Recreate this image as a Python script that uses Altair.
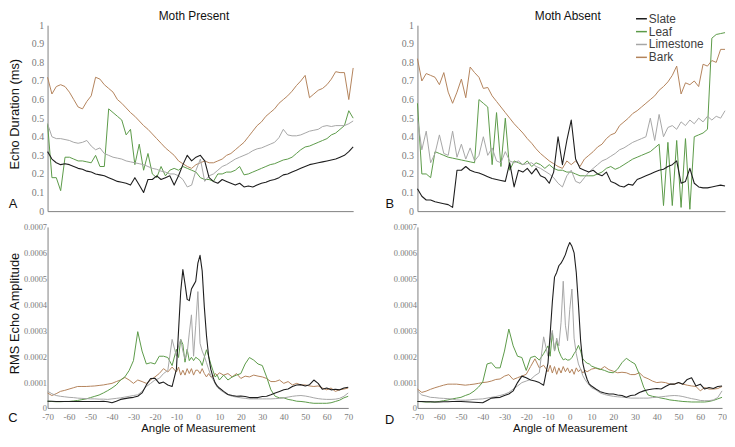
import altair as alt
import pandas as pd

SERIES = ["Slate", "Leaf", "Limestone", "Bark"]
COLORS = ["#1e1e1e", "#5b9a48", "#a6a6a6", "#b3835b"]
WIDTHS = [1.1, 1.0, 1.0, 1.0]
DRAW_ORDER = ["Bark", "Leaf", "Limestone", "Slate"]

TOP_ANGLES = list(range(-70, 71, 2))
BOTTOM_ANGLES = list(range(-70, -11, 2)) + list(range(-10, 11)) + list(range(12, 71, 2))

# ---- Panel A : echo duration (ms), moth present ----
A_SLATE = [0.32, 0.28, 0.26, 0.25, 0.255, 0.25, 0.24, 0.23, 0.225, 0.215,
           0.21, 0.20, 0.195, 0.19, 0.18, 0.17, 0.16, 0.155, 0.15, 0.14,
           0.18, 0.14, 0.10, 0.17, 0.17, 0.19, 0.17, 0.18, 0.19, 0.14,
           0.19, 0.25, 0.30, 0.27, 0.29, 0.30, 0.27, 0.18, 0.16, 0.15,
           0.17, 0.16, 0.15, 0.14, 0.15, 0.13, 0.135, 0.13, 0.14, 0.15,
           0.155, 0.165, 0.17, 0.18, 0.195, 0.20, 0.21, 0.22, 0.23, 0.24,
           0.25, 0.255, 0.26, 0.265, 0.27, 0.275, 0.28, 0.29, 0.30, 0.32,
           0.345]
A_LEAF = [0.47, 0.18, 0.18, 0.11, 0.29, 0.29, 0.28, 0.27, 0.27, 0.265,
          0.26, 0.30, 0.24, 0.24, 0.55, 0.53, 0.51, 0.49, 0.41, 0.44,
          0.25, 0.36, 0.22, 0.31, 0.20, 0.18, 0.24, 0.19, 0.22, 0.23,
          0.22, 0.24, 0.23, 0.22, 0.21, 0.18, 0.17, 0.17, 0.16, 0.20,
          0.20, 0.21, 0.21, 0.22, 0.24, 0.195, 0.20, 0.21, 0.22, 0.23,
          0.24, 0.25, 0.255, 0.265, 0.275, 0.28, 0.29, 0.31, 0.33, 0.345,
          0.35, 0.36, 0.37, 0.38, 0.39, 0.41, 0.42, 0.44, 0.46, 0.54,
          0.50]
A_LIMESTONE = [0.47, 0.40, 0.39, 0.39, 0.385, 0.38, 0.37, 0.365, 0.37, 0.38,
               0.35, 0.33, 0.34, 0.31, 0.30, 0.29, 0.285, 0.28, 0.27, 0.265,
               0.26, 0.255, 0.25, 0.24, 0.23, 0.225, 0.215, 0.21, 0.20, 0.20,
               0.19, 0.17, 0.13, 0.14, 0.22, 0.28, 0.16, 0.19, 0.20, 0.22,
               0.24, 0.25, 0.265, 0.28, 0.29, 0.30, 0.31, 0.325, 0.335, 0.34,
               0.35, 0.36, 0.37, 0.395, 0.44, 0.41, 0.405, 0.405, 0.41, 0.42,
               0.43, 0.435, 0.44, 0.455, 0.46, 0.455, 0.46, 0.46, 0.46, 0.47,
               0.485]
A_BARK = [0.72, 0.63, 0.67, 0.68, 0.67, 0.64, 0.60, 0.56, 0.55, 0.59,
          0.62, 0.72, 0.71, 0.68, 0.66, 0.64, 0.60, 0.58, 0.555, 0.53,
          0.51, 0.485, 0.46, 0.44, 0.415, 0.39, 0.365, 0.34, 0.32, 0.30,
          0.27, 0.255, 0.24, 0.23, 0.25, 0.26, 0.27, 0.26, 0.26, 0.27,
          0.28, 0.30, 0.31, 0.33, 0.35, 0.37, 0.40, 0.43, 0.46, 0.48,
          0.51, 0.53, 0.55, 0.58, 0.60, 0.62, 0.645, 0.675, 0.70, 0.73,
          0.61, 0.63, 0.65, 0.66, 0.68, 0.71, 0.75, 0.745, 0.745, 0.60,
          0.77]

# ---- Panel B : echo duration (ms), moth absent ----
B_SLATE = [0.12, 0.08, 0.06, 0.06, 0.05, 0.045, 0.04, 0.035, 0.02, 0.22,
           0.22, 0.24, 0.22, 0.21, 0.205, 0.195, 0.185, 0.175, 0.17, 0.165,
           0.16, 0.26, 0.13, 0.22, 0.21, 0.23, 0.20, 0.23, 0.19, 0.18,
           0.15, 0.21, 0.40, 0.25, 0.38, 0.49, 0.28, 0.23, 0.22, 0.21,
           0.22, 0.20, 0.19, 0.21, 0.16, 0.15, 0.135, 0.13, 0.145, 0.14,
           0.17, 0.18, 0.19, 0.20, 0.21, 0.22, 0.225, 0.24, 0.25, 0.27,
           0.15, 0.16, 0.23, 0.15, 0.13, 0.125, 0.125, 0.13, 0.135, 0.14,
           0.135]
B_LEAF = [0.58, 0.20, 0.20, 0.18, 0.32, 0.31, 0.30, 0.29, 0.285, 0.28,
          0.275, 0.27, 0.265, 0.26, 0.60, 0.58, 0.56, 0.25, 0.53, 0.24,
          0.50, 0.22, 0.27, 0.26, 0.25, 0.27, 0.24, 0.26, 0.25, 0.23,
          0.25, 0.23, 0.22, 0.22, 0.21, 0.21, 0.20, 0.19, 0.19, 0.19,
          0.19, 0.20, 0.21, 0.23, 0.24, 0.225, 0.235, 0.25, 0.265, 0.28,
          0.29, 0.30, 0.31, 0.32, 0.34, 0.36, 0.03, 0.37, 0.03, 0.38,
          0.02, 0.39, 0.01, 0.40, 0.41, 0.42, 0.44, 0.93, 0.95, 0.955,
          0.96]
B_LIMESTONE = [0.50, 0.33, 0.43, 0.26, 0.31, 0.41, 0.31, 0.30, 0.43, 0.29,
               0.36, 0.28, 0.34, 0.27, 0.30, 0.40, 0.30, 0.34, 0.27, 0.26,
               0.32, 0.27, 0.26, 0.27, 0.25, 0.255, 0.26, 0.24, 0.23, 0.215,
               0.20, 0.18, 0.15, 0.13, 0.19, 0.22, 0.16, 0.15, 0.18, 0.21,
               0.23, 0.25, 0.27, 0.28, 0.295, 0.31, 0.33, 0.34, 0.355, 0.37,
               0.38, 0.39, 0.40, 0.50, 0.38, 0.52, 0.40, 0.45, 0.46, 0.44,
               0.48, 0.46, 0.49, 0.47, 0.50, 0.48, 0.51, 0.49, 0.51, 0.50,
               0.54]
B_BARK = [0.82, 0.70, 0.74, 0.73, 0.72, 0.68, 0.745, 0.64, 0.58, 0.64,
          0.71, 0.61, 0.775, 0.745, 0.72, 0.66, 0.665, 0.62, 0.59, 0.56,
          0.53, 0.50, 0.47, 0.445, 0.42, 0.39, 0.365, 0.335, 0.31, 0.29,
          0.27, 0.255, 0.24, 0.23, 0.27, 0.25, 0.27, 0.24, 0.28, 0.30,
          0.32, 0.345, 0.36, 0.39, 0.41, 0.42, 0.46, 0.48, 0.50, 0.525,
          0.54, 0.56, 0.58, 0.60, 0.62, 0.65, 0.67, 0.695, 0.73, 0.78,
          0.63, 0.69, 0.68, 0.70, 0.67, 0.79, 0.78, 0.81, 0.80, 0.87,
          0.87]

# ---- Panel C : RMS echo amplitude (x 1e-4), moth present ----
C_SLATE = [0.26, 0.26, 0.25, 0.25, 0.25, 0.25, 0.25, 0.25, 0.25, 0.25,
           0.25, 0.25, 0.25, 0.26, 0.24, 0.20, 0.26, 0.33, 0.36, 0.39,
           0.41, 0.45, 0.58, 0.89, 1.14, 1.15, 0.95, 1.00, 0.89, 0.83,
           1.5, 3.0, 4.5, 5.35, 4.8, 4.2, 4.15, 4.6, 4.75, 4.9, 5.6,
           5.9, 5.3, 3.9, 2.8, 2.0, 1.5, 1.2, 0.98, 0.85, 0.77,
           0.64, 0.52, 0.48, 0.45, 0.46, 0.44, 0.40, 0.40, 0.40, 0.44,
           0.45, 0.51, 0.58, 0.64, 0.70, 0.73, 0.83, 0.89, 0.90, 0.85,
           0.90, 1.08, 0.95, 0.72, 0.77, 0.70, 0.72, 0.70, 0.77, 0.80]
C_LEAF = [0.26, 0.25, 0.24, 0.24, 0.25, 0.25, 0.27, 0.29, 0.32, 0.35,
          0.40, 0.45, 0.50, 0.58, 0.67, 0.77, 0.89, 1.08, 1.20, 1.45,
          1.83, 2.95, 2.2, 1.7, 1.75, 1.7, 2.0, 2.0, 1.95, 1.64,
          2.27, 1.95, 2.65, 2.46, 1.77, 2.27, 1.83, 1.96, 1.83, 1.96, 1.9,
          1.83, 1.64, 1.96, 2.25, 2.0, 1.7, 1.45, 1.2, 1.27, 1.08,
          1.27, 1.08, 1.2, 1.27, 1.33, 1.7, 1.95, 1.85, 1.7, 1.64,
          1.2, 0.7, 0.45, 0.39, 0.39, 0.33, 0.30, 0.26, 0.25, 0.23,
          0.20, 0.18, 0.18, 0.18, 0.18, 0.20, 0.25, 0.30, 0.39, 0.45]
C_LIMESTONE = [0.65, 0.55, 0.48, 0.45, 0.43, 0.41, 0.40, 0.38, 0.37, 0.36,
               0.35, 0.35, 0.34, 0.34, 0.33, 0.35, 0.37, 0.39, 0.42, 0.45,
               0.48, 0.51, 0.64, 0.83, 0.95, 1.08, 1.14, 1.33, 1.45, 2.65,
               2.0, 2.4, 2.65, 2.2, 1.9, 2.1, 2.9, 3.6, 2.0, 3.2, 4.5,
               2.5, 2.2, 2.0, 1.75, 1.5, 1.25, 1.1, 0.95, 0.8, 0.72,
               0.60, 0.51, 0.45, 0.42, 0.39, 0.37, 0.35, 0.35, 0.35, 0.35,
               0.35, 0.35, 0.36, 0.37, 0.39, 0.42, 0.45, 0.47, 0.48, 0.46,
               0.43, 0.39, 0.36, 0.34, 0.33, 0.33, 0.34, 0.37, 0.45, 0.58]
C_BARK = [0.58, 0.48, 0.55, 0.64, 0.68, 0.73, 0.78, 0.83, 0.83, 0.83,
          0.84, 0.85, 0.87, 0.89, 0.92, 0.95, 1.02, 1.08, 1.18, 1.08,
          0.95, 1.08, 1.02, 0.95, 1.08, 1.2, 1.33, 1.52, 1.39, 1.58,
          1.39, 1.58, 1.27, 1.46, 1.27, 1.52, 1.33, 1.52, 1.27, 1.46, 1.46,
          1.33, 1.52, 1.33, 1.2, 1.33, 1.2, 1.2, 1.33, 1.27, 1.36,
          1.27, 1.33, 1.2, 1.33, 1.14, 1.23, 1.2, 1.27, 1.23, 1.2,
          1.14, 1.02, 1.02, 1.08, 0.95, 1.02, 0.89, 0.95, 0.89, 0.89,
          0.85, 0.83, 0.85, 0.77, 0.70, 0.77, 0.64, 0.70, 0.73, 0.77]

# ---- Panel D : RMS echo amplitude (x 1e-4), moth absent ----
D_SLATE = [0.25, 0.25, 0.24, 0.24, 0.23, 0.23, 0.24, 0.24, 0.25, 0.25,
           0.25, 0.24, 0.23, 0.22, 0.21, 0.20, 0.29, 0.38, 0.40, 0.41,
           0.48, 0.54, 0.66, 0.98, 1.23, 1.17, 1.08, 1.04, 0.98, 0.88,
           1.73, 2.86, 4.1, 5.06, 5.24, 5.5, 5.6, 5.75, 5.93, 6.2, 6.4,
           6.25, 6.0, 5.24, 4.0, 2.6, 1.73, 1.36, 1.1, 0.92, 0.85,
           0.73, 0.63, 0.58, 0.54, 0.54, 0.50, 0.48, 0.41, 0.48, 0.50,
           0.60, 0.66, 0.70, 0.73, 0.75, 0.73, 0.83, 0.92, 0.92, 0.98,
           0.92, 1.10, 1.17, 0.85, 0.92, 0.73, 0.79, 0.75, 0.83, 0.85]
D_LEAF = [0.25, 0.24, 0.23, 0.23, 0.23, 0.25, 0.28, 0.31, 0.35, 0.38,
          0.41, 0.48, 0.54, 0.65, 0.80, 1.0, 1.7, 1.75, 1.55, 1.55,
          2.2, 3.05, 2.4, 2.0, 1.95, 1.45, 1.95, 2.0, 1.85, 2.1,
          2.4, 2.0, 2.9, 2.2, 2.6, 2.2, 2.0, 1.86, 1.9, 1.85, 1.86,
          1.95, 2.1, 2.23, 2.42, 2.2, 1.9, 1.8, 1.73, 1.7, 1.62,
          1.55, 1.5, 1.45, 1.38, 1.36, 1.5, 1.75, 1.92, 1.8, 1.7,
          1.3, 0.8, 0.5, 0.45, 0.42, 0.38, 0.35, 0.31, 0.29, 0.27,
          0.25, 0.24, 0.23, 0.23, 0.23, 0.23, 0.25, 0.29, 0.35, 0.41]
D_LIMESTONE = [0.66, 0.50, 0.46, 0.41, 0.40, 0.38, 0.37, 0.36, 0.34, 0.31,
               0.30, 0.30, 0.31, 0.33, 0.34, 0.35, 0.38, 0.41, 0.44, 0.48,
               0.53, 0.60, 0.73, 0.85, 0.98, 1.04, 1.1, 1.25, 1.36, 2.75,
               2.0, 2.6, 3.0, 2.2, 2.7, 2.4, 3.3, 4.9, 3.2, 2.6, 3.8,
               4.6, 2.7, 2.1, 1.7, 1.5, 1.25, 1.1, 0.98, 0.88, 0.78,
               0.70, 0.58, 0.52, 0.48, 0.45, 0.43, 0.42, 0.40, 0.38, 0.38,
               0.38, 0.38, 0.38, 0.40, 0.41, 0.43, 0.45, 0.47, 0.48, 0.47,
               0.44, 0.40, 0.36, 0.33, 0.29, 0.28, 0.28, 0.31, 0.40, 0.66]
D_BARK = [0.73, 0.60, 0.65, 0.72, 0.78, 0.83, 0.88, 0.92, 0.92, 0.92,
          0.90, 0.88, 0.90, 0.92, 0.95, 0.98, 1.0, 1.04, 1.1, 1.12,
          1.23, 1.29, 1.1, 1.17, 1.23, 1.3, 1.6, 1.9, 1.55, 1.65,
          1.4, 1.65, 1.35, 1.6, 1.3, 1.55, 1.35, 1.6, 1.4, 1.55, 1.35,
          1.5, 1.3, 1.55, 1.4, 1.5, 1.35, 1.45, 1.4, 1.45, 1.5,
          1.54, 1.48, 1.6, 1.48, 1.42, 1.36, 1.38, 1.36, 1.29, 1.29,
          1.36, 1.2, 1.13, 1.04, 0.98, 1.0, 0.98, 0.92, 0.92, 0.98,
          0.92, 0.88, 0.85, 0.83, 0.66, 0.79, 0.73, 0.73, 0.75, 0.83]

AMP_UNIT = 1e-4

DURATION_TICKS = [0, 0.1, 0.2, 0.3, 0.4, 0.5, 0.6, 0.7, 0.8, 0.9, 1]
AMPLITUDE_TICKS = [0, 0.0001, 0.0002, 0.0003, 0.0004, 0.0005, 0.0006, 0.0007]
ANGLE_TICKS = [-70, -60, -50, -40, -30, -20, -10, 0, 10, 20, 30, 40, 50, 60, 70]

SANS = "Liberation Sans"
SERIF = "Liberation Serif"


def table(angles, data, unit=1.0):
    rows = []
    for name in DRAW_ORDER:
        sw = WIDTHS[SERIES.index(name)]
        for a, v in zip(angles, data[name]):
            rows.append({"angle": a, "value": v * unit, "series": name, "sw": sw})
    return pd.DataFrame(rows)


LEGEND = alt.Legend(
    title=None, orient="none", legendX=594, legendY=-13, direction="vertical",
    symbolType="stroke", symbolSize=121, symbolStrokeWidth=1.5,
    labelFont=SANS, labelFontSize=12, labelColor="#404040", labelOffset=1,
    rowPadding=0, padding=0, offset=0,
)


def text_layer(txt, x, y, size, angle=0):
    return alt.Chart(pd.DataFrame({"t": [txt]})).mark_text(
        font=SANS, fontSize=size, color="#111111", align="center",
        baseline="middle", angle=angle
    ).encode(text="t:N", x=alt.value(x), y=alt.value(y))


def panel(df, w, h, top, left, letter, letter_xy, title=None, title_x=None):
    if top:
        ydom = [0, 1]
        yaxis = alt.Axis(values=DURATION_TICKS, format=".1~f", labelFont=SERIF,
                         labelFontSize=10, labelColor="#7a7a7a", labelPadding=4,
                         ticks=False, grid=False, domainColor="#808080",
                         labelOverlap=False, labelFlush=False, title=None)
        xaxis = alt.Axis(labels=False, ticks=False, grid=False, title=None,
                         domainColor="#808080")
        ytitle = "Echo Duration (ms)"
    else:
        ydom = [0, 0.0007]
        yaxis = alt.Axis(values=AMPLITUDE_TICKS, format=".4~f", labelFont=SERIF,
                         labelFontSize=8.5, labelColor="#7a7a7a", labelPadding=1,
                         ticks=False, grid=False, domainColor="#808080",
                         labelOverlap=False, labelFlush=False, title=None)
        xaxis = alt.Axis(values=ANGLE_TICKS, labelExpr="'' + datum.value",
                         labelFont=SERIF, labelFontSize=9, labelColor="#7a7a7a",
                         labelPadding=5, labelFlush=False, labelOverlap=False,
                         ticks=False, grid=False, domainColor="#808080",
                         title="Angle of Measurement", titleFont=SANS,
                         titleFontSize=11.5, titleFontWeight="normal",
                         titleColor="#111111", titlePadding=1)
        ytitle = "RMS Echo Amplitude"

    lines = alt.Chart(df).mark_line(interpolate="linear", strokeJoin="round").encode(
        x=alt.X("angle:Q", scale=alt.Scale(domain=[-70, 70], nice=False, zero=False),
                axis=xaxis),
        y=alt.Y("value:Q", scale=alt.Scale(domain=ydom, nice=False), axis=yaxis),
        color=alt.Color("series:N", scale=alt.Scale(domain=SERIES, range=COLORS),
                        legend=LEGEND),
        strokeWidth=alt.StrokeWidth("sw:Q", scale=None),
    )
    layers = [lines, text_layer(letter, letter_xy[0], letter_xy[1], 13)]
    if left:
        layers.append(text_layer(ytitle, -33, h / 2 - 4, 13, angle=270))
    if title:
        layers.append(text_layer(title, title_x, -9, 12))
    return alt.layer(*layers).properties(width=w, height=h)


dfA = table(TOP_ANGLES, {"Slate": A_SLATE, "Leaf": A_LEAF, "Limestone": A_LIMESTONE, "Bark": A_BARK})
dfB = table(TOP_ANGLES, {"Slate": B_SLATE, "Leaf": B_LEAF, "Limestone": B_LIMESTONE, "Bark": B_BARK})
dfC = table(BOTTOM_ANGLES, {"Slate": C_SLATE, "Leaf": C_LEAF, "Limestone": C_LIMESTONE, "Bark": C_BARK}, AMP_UNIT)
dfD = table(BOTTOM_ANGLES, {"Slate": D_SLATE, "Leaf": D_LEAF, "Limestone": D_LIMESTONE, "Bark": D_BARK}, AMP_UNIT)

TOP_H = 188
BOT_H = 183
pA = panel(dfA, 309, TOP_H, True, True, "A", (-35, TOP_H - 7), "Moth Present", 148)
pB = panel(dfB, 311, TOP_H, True, False, "B", (-28, TOP_H - 7), "Moth Absent", 152)
pC = panel(dfC, 304, BOT_H, False, True, "C", (-35, BOT_H + 10))
pD = panel(dfD, 308, BOT_H, False, False, "D", (-28, BOT_H + 12))

chart = alt.concat(
    pA, pB, pC, pD, columns=2,
    spacing=alt.RowColnumber(row=16, column=65),
    bounds="flush",
).properties(
    padding={"left": 0, "top": 0, "right": 0, "bottom": 0},
    background="white",
).configure_view(stroke=None)

chart.save("out.html", embed_options={"renderer": "svg", "actions": False})
